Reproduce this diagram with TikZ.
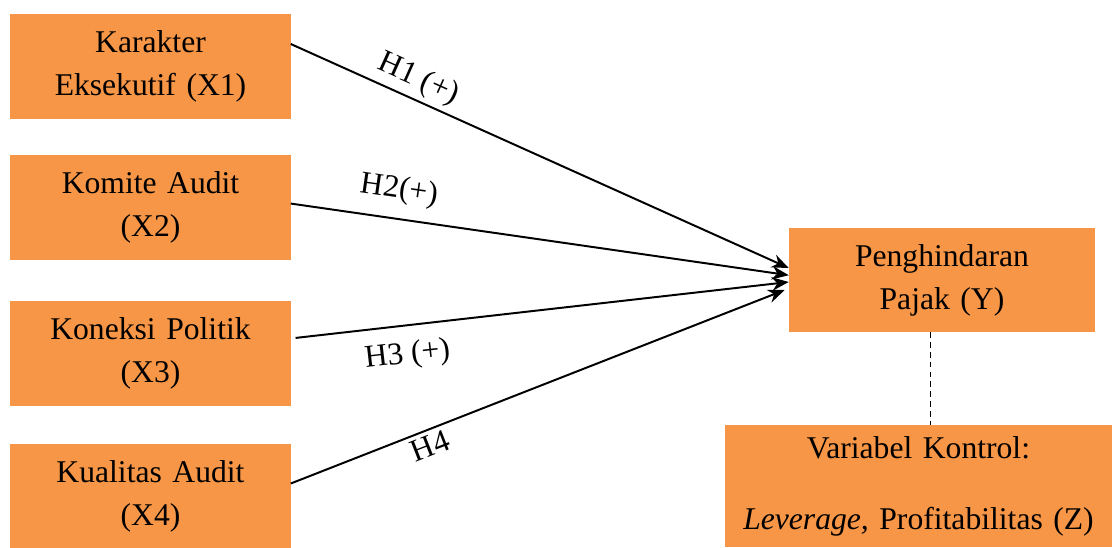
\documentclass[tikz,border=0pt]{standalone}
\usepackage{fontspec}
\setmainfont{Liberation Serif}
\usepackage{tikz}
\usetikzlibrary{arrows.meta, positioning}
\definecolor{boxorange}{HTML}{F79646}

\begin{document}
\begin{tikzpicture}[
  node distance=0.95cm,
  var/.style={rectangle, fill=boxorange, text width=6.6cm, align=center,
              minimum width=7cm, minimum height=2.625cm,
              font=\fontsize{22.5}{30.5}\selectfont},
  arrow/.style={-{Stealth[length=4.2mm, width=3.4mm]}, line width=1.4pt},
  hyp/.style={sloped, font=\fontsize{22.5}{27}\selectfont}
]
\useasboundingbox (0,0) rectangle (27.8,-13.675);

\node[var] at (3.7625,-1.65) (x1) {Karakter\\ Eksekutif (X1)};
\node[var, below=0.9cm of x1] (x2) {Komite Audit\\ (X2)};
\node[var, below=1.0cm of x2] (x3) {Koneksi Politik\\ (X3)};
\node[var, below=of x3] (x4) {Kualitas Audit\\ (X4)};
\node[var, text width=7.4cm, minimum width=7.65cm, minimum height=2.6cm] at (23.55,-7.0) (ypajak) {Penghindaran\\ Pajak (Y)};
\node[var, text width=9.4cm, minimum width=9.675cm, minimum height=3.05cm] at (22.9625,-12.15) (zkontrol)
  {Variabel Kontrol:\\[20pt] \textit{Leverage,} Profitabilitas (Z)};

\draw[arrow] ([yshift=0.55cm]x1.east) -- node[hyp, above, pos=0.24] {H1 (+)} ([yshift=0.3cm]ypajak.west);
\draw[arrow] ([yshift=0.1cm]x2.east) -- node[hyp, above=6pt, pos=0.21] {H2(+)} ([yshift=0.12cm]ypajak.west);
\draw[arrow] ([xshift=0.12cm, yshift=0.38cm]x3.east) -- node[hyp, below=7pt, pos=0.22] {H3 (+)} ([yshift=-0.05cm]ypajak.west);
\draw[arrow] ([yshift=0.33cm]x4.east) -- node[hyp, below, pos=0.27] {H4} ([xshift=-0.1cm, yshift=-0.25cm]ypajak.west);

\draw[dashed, line width=0.7pt, dash pattern=on 4pt off 3pt] ([xshift=-0.3cm]ypajak.south) -- ([xshift=-0.3cm]ypajak.south |- zkontrol.north);

\end{tikzpicture}
\end{document}
